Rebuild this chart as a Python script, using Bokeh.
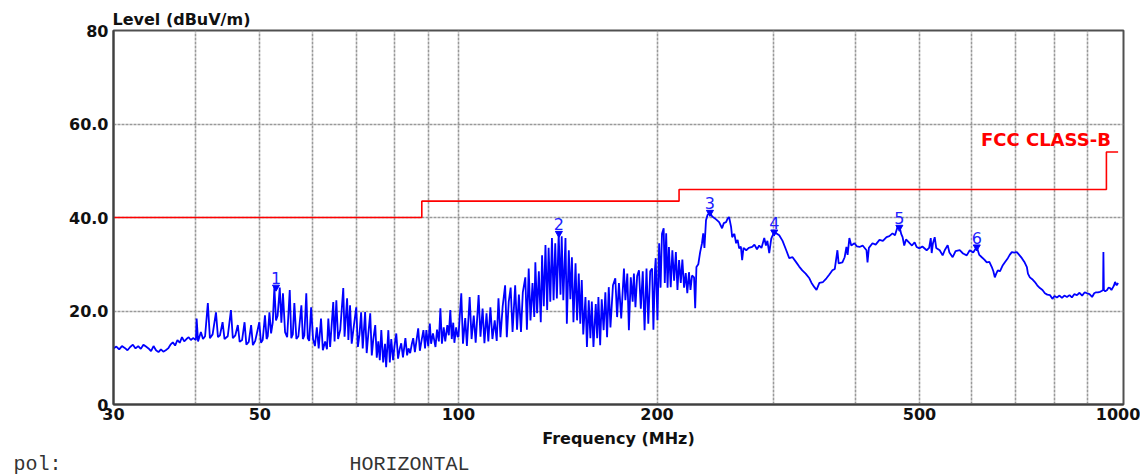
from bokeh.plotting import figure
from bokeh.models import Range1d, FixedTicker, PrintfTickFormatter, Label, ColumnDataSource, Title
from bokeh.embed import file_html
from bokeh.resources import INLINE
from bokeh.core.properties import value

trace_30_40 = [(30.0, 12.0), (30.3, 12.4), (30.6, 11.8), (30.9, 12.5), (31.2, 12.1), (31.5, 11.6),
               (31.8, 12.3), (32.1, 12.8), (32.4, 12.0), (32.7, 12.5), (33.0, 11.9), (33.3, 12.8),
               (33.6, 12.4), (33.9, 12.0), (34.2, 11.4), (34.5, 12.5), (34.8, 11.6), (35.1, 11.2),
               (35.4, 11.8), (35.7, 11.3), (36.0, 11.6), (36.3, 12.0), (36.6, 12.8), (36.9, 13.3),
               (37.2, 12.6), (37.5, 13.8), (37.8, 13.2), (38.1, 14.4), (38.4, 13.5), (38.7, 14.0),
               (39.0, 14.4), (39.3, 13.8), (39.6, 14.2), (39.9, 13.9)]

trace_40_60 = [(40.0, 13.8), (40.1, 18.4), (40.3, 13.5), (40.7, 15.5), (41.0, 14.0), (41.3, 14.6),
               (41.7, 21.7), (42.0, 14.2), (42.4, 15.0), (42.9, 19.7), (43.2, 14.4), (43.5, 14.8),
               (43.9, 17.6), (44.2, 14.0), (44.7, 14.6), (45.2, 20.2), (45.5, 14.2), (45.9, 14.8),
               (46.3, 17.0), (46.6, 13.4), (47.0, 13.8), (47.4, 17.6), (47.7, 12.8), (48.1, 13.4),
               (48.5, 17.0), (48.8, 12.7), (49.2, 13.6), (49.9, 17.6), (50.2, 13.2), (50.5, 13.8),
               (50.9, 19.1), (51.2, 14.0), (51.4, 14.6), (51.7, 19.7), (52.0, 15.2), (52.3, 17.5),
               (52.6, 25.1), (52.9, 18.0), (53.2, 19.0), (53.6, 25.0), (53.9, 17.5), (54.2, 23.8),
               (54.6, 15.5), (55.0, 14.4), (55.5, 24.5), (55.8, 14.2), (56.1, 15.0), (56.4, 21.7),
               (56.8, 14.0), (57.2, 14.6), (57.8, 21.2), (58.1, 14.0), (58.4, 14.8), (58.8, 23.8),
               (59.1, 14.2), (59.4, 13.6), (59.8, 20.8)]

trace_60_100 = [(60.2, 14.0), (60.6, 12.5), (61.0, 16.5), (61.4, 12.0), (61.9, 18.4), (62.3, 11.6),
                (62.8, 13.5), (63.2, 11.8), (63.5, 18.4), (63.9, 12.3), (64.6, 21.9), (64.9, 13.5),
                (65.3, 22.3), (65.7, 14.0), (66.2, 16.0), (66.9, 24.9), (67.2, 14.5), (67.8, 22.7),
                (68.1, 13.8), (68.5, 21.2), (68.9, 13.0), (69.3, 16.0), (70.0, 20.8), (70.4, 12.3),
                (70.8, 15.0), (71.2, 19.7), (71.6, 12.0), (72.2, 19.8), (72.6, 11.0), (73.0, 15.0),
                (73.5, 19.5), (73.9, 10.5), (74.3, 14.0), (74.8, 17.0), (75.2, 10.0), (75.6, 13.5),
                (76.0, 9.5), (76.4, 15.9), (76.9, 9.0), (77.4, 13.0), (77.7, 8.0), (78.3, 15.9),
                (78.7, 9.0), (79.1, 14.0), (79.6, 9.5), (80.0, 12.5), (80.5, 15.2), (81.0, 9.8),
                (81.5, 12.0), (81.9, 13.1), (82.4, 10.1), (83.1, 14.2), (83.6, 10.5), (84.0, 12.0),
                (84.5, 11.0), (85.0, 13.0), (85.4, 14.2), (85.9, 11.2), (86.9, 16.3), (87.4, 11.5),
                (88.0, 14.0), (88.5, 15.9), (89.0, 12.0), (89.4, 15.9), (90.0, 12.5), (90.5, 17.3),
                (90.9, 13.0), (91.5, 15.2), (92.3, 12.3), (92.8, 16.0), (93.4, 13.5), (93.9, 20.6),
                (94.4, 13.0), (95.0, 16.5), (95.5, 13.5), (96.2, 17.0), (96.7, 14.8), (97.2, 20.2),
                (97.7, 14.0), (98.2, 17.5), (98.6, 13.2), (99.2, 16.5), (99.7, 14.5)]

trace_100_240 = [(100.0, 14.5), (101.0, 23.8), (101.6, 13.0), (102.4, 18.5), (103.0, 12.5), (104.0, 23.0),
                 (104.7, 14.0), (105.5, 19.0), (106.2, 13.2), (107.3, 23.4), (108.0, 14.5), (108.8, 20.5),
                 (109.5, 13.1), (110.3, 19.5), (111.0, 13.5), (111.8, 20.8), (112.6, 14.0), (113.5, 18.0),
                 (114.3, 13.6), (115.0, 22.7), (115.8, 14.4), (116.7, 21.0), (117.7, 25.5), (118.4, 14.4),
                 (119.2, 22.0), (120.0, 25.0), (120.8, 15.5), (121.9, 25.5), (122.7, 16.0), (123.5, 23.5),
                 (124.4, 15.5), (125.2, 24.0), (126.3, 27.2), (127.0, 16.0), (127.8, 29.1), (128.6, 18.0),
                 (129.5, 26.0), (130.3, 18.7), (130.8, 30.4), (131.6, 19.5), (132.4, 28.5), (133.3, 17.6),
                 (133.9, 31.9), (134.7, 21.0), (135.5, 34.1), (136.3, 20.2), (137.0, 33.5), (137.8, 22.0),
                 (138.6, 35.6), (139.4, 22.3), (140.2, 34.5), (141.0, 22.7), (141.9, 36.6), (142.8, 23.5),
                 (143.4, 36.0), (144.2, 22.3), (145.3, 35.6), (146.0, 17.3), (147.0, 33.0), (147.8, 22.5),
                 (148.6, 31.5), (149.4, 17.6), (150.5, 30.2), (151.3, 18.0), (152.2, 28.0), (153.0, 17.3),
                 (153.8, 26.6), (154.6, 15.0), (155.8, 23.0), (156.6, 12.3), (157.6, 22.3), (158.5, 14.2),
                 (159.3, 22.0), (160.2, 12.3), (161.5, 21.5), (162.3, 14.2), (163.0, 23.0), (164.0, 12.7),
                 (164.9, 22.5), (166.0, 15.9), (167.0, 24.0), (168.0, 14.4), (169.0, 25.1), (170.0, 16.5),
                 (171.5, 25.5), (172.9, 27.0), (174.0, 18.7), (175.1, 26.0), (176.5, 18.4), (178.2, 29.1),
                 (179.1, 22.3), (180.3, 28.0), (181.3, 15.9), (182.5, 27.2), (183.7, 22.0), (184.5, 28.0),
                 (185.5, 20.8), (186.6, 27.5), (187.8, 28.7), (189.0, 20.5), (190.3, 28.5), (191.5, 15.9),
                 (192.8, 29.1), (194.0, 17.3), (195.3, 28.5), (196.6, 29.1), (197.5, 16.0), (198.6, 29.0),
                 (199.1, 31.3), (200.3, 18.0), (201.5, 34.5), (202.5, 25.0), (203.5, 36.5), (204.7, 37.7),
                 (205.5, 26.0), (206.5, 36.6), (207.5, 25.0), (208.5, 33.7), (209.8, 25.1), (211.0, 33.0),
                 (212.3, 26.5), (213.6, 32.6), (214.8, 24.5), (216.0, 30.9), (217.3, 26.0), (218.5, 31.0),
                 (219.8, 25.0), (221.1, 28.1), (222.3, 23.8), (223.6, 28.3), (224.8, 24.5), (226.0, 27.6),
                 (227.6, 27.2), (228.5, 20.6), (229.5, 29.4), (231.0, 30.0), (232.5, 32.6), (234.0, 34.5),
                 (235.0, 36.6), (236.0, 33.5), (237.3, 39.4), (238.5, 40.5), (239.8, 40.9)]

trace_240_1000 = [(240.6, 41.1), (242.5, 40.2), (245.8, 39.6), (248.4, 39.0), (251.0, 37.7), (252.5, 38.8),
                  (254.5, 39.0), (256.0, 39.8), (257.2, 40.1), (259.0, 38.0), (260.0, 35.8), (262.0, 36.5),
                  (263.6, 34.5), (265.0, 35.2), (266.4, 33.4), (268.0, 33.8), (269.2, 30.9), (270.5, 33.5),
                  (273.1, 33.0), (275.5, 33.5), (278.8, 33.7), (281.0, 34.2), (283.5, 33.2), (285.7, 34.0),
                  (288.0, 33.5), (290.8, 35.6), (292.5, 34.0), (294.0, 35.0), (295.9, 32.4), (298.0, 35.5),
                  (301.1, 36.9), (303.5, 36.6), (306.4, 36.2), (310.0, 35.0), (314.0, 33.0), (317.3, 31.3),
                  (321.0, 31.5), (325.2, 30.4), (328.5, 29.5), (332.1, 28.7), (336.0, 28.0), (340.4, 27.0),
                  (343.0, 26.0), (346.4, 25.1), (349.0, 24.5), (352.5, 26.0), (357.0, 26.2), (361.3, 27.0),
                  (365.0, 27.8), (368.9, 28.7), (372.0, 29.0), (375.4, 33.0), (377.0, 30.2), (382.0, 30.4),
                  (385.0, 31.5), (387.4, 33.7), (389.0, 32.0), (391.4, 35.6), (394.0, 34.0), (398.4, 34.5),
                  (402.0, 33.8), (405.4, 33.7), (410.0, 34.0), (415.5, 33.0), (417.0, 30.4), (419.0, 33.5),
                  (424.3, 34.5), (429.0, 34.2), (434.8, 35.2), (440.0, 35.0), (445.6, 35.8), (450.0, 36.0),
                  (455.0, 36.6), (459.0, 36.2), (463.1, 38.0), (466.5, 37.9), (469.0, 36.5), (471.3, 35.8),
                  (474.0, 34.0), (477.0, 35.3), (483.0, 34.5), (487.0, 34.0), (491.5, 34.7), (494.9, 33.7),
                  (500.0, 33.4), (505.0, 33.8), (512.6, 33.0), (517.0, 33.5), (520.0, 35.6), (521.7, 32.4),
                  (524.0, 34.5), (527.2, 35.8), (530.0, 33.5), (536.5, 33.0), (542.0, 31.9), (546.0, 33.0),
                  (551.6, 34.1), (555.0, 32.5), (561.3, 31.5), (567.0, 32.8), (575.3, 33.0), (582.0, 32.3),
                  (589.6, 31.9), (595.8, 33.0), (603.0, 32.5), (610.6, 33.7), (616.0, 32.0), (621.4, 31.5),
                  (627.0, 31.0), (632.3, 30.4), (638.0, 30.5), (643.5, 29.4), (647.0, 28.5), (650.3, 27.2),
                  (653.5, 28.0), (657.1, 28.7), (662.0, 28.5), (668.7, 29.8), (674.0, 30.5), (680.5, 31.3),
                  (685.0, 32.0), (690.1, 32.6), (696.0, 32.5), (702.3, 32.6), (708.0, 32.0), (714.7, 31.3),
                  (721.0, 30.5), (727.3, 29.4), (730.0, 28.0), (734.9, 27.2), (741.0, 26.8), (747.9, 26.2),
                  (754.0, 25.5), (761.1, 24.9), (768.0, 24.5), (774.5, 23.8), (781.0, 23.5), (788.2, 23.4),
                  (795.0, 22.6), (801.0, 23.2), (807.7, 22.9), (815.0, 23.3), (822.0, 22.8), (829.0, 23.3),
                  (836.5, 23.0), (844.0, 23.4), (851.0, 22.9), (858.0, 23.6), (866.3, 23.4), (874.0, 23.9),
                  (882.0, 23.3), (890.0, 24.0), (897.3, 23.8), (905.0, 23.6), (913.2, 23.0), (920.0, 23.8),
                  (926.0, 24.0), (932.0, 24.0), (939.0, 24.1), (944.0, 24.3), (948.9, 24.5), (950.0, 32.6),
                  (951.5, 24.5), (956.0, 24.2), (962.3, 24.5), (967.0, 25.0), (972.3, 24.9), (977.0, 24.5),
                  (982.6, 25.1), (986.0, 25.5), (989.5, 26.2), (995.0, 25.5), (1000.0, 26.0)]

# ---- FCC class B limit (step edges) ----
limit_freq = [30, 88, 216, 960, 1000]
limit_level = [40.0, 43.5, 46.0, 54.0, 54.0]

# ---- numbered peaks ----
peak_freq = [52.9, 142.0, 240.6, 301.1, 466.0, 610.6]
peak_level = [25.1, 36.6, 41.1, 36.9, 37.9, 33.7]
peak_label = ["1", "2", "3", "4", "5", "6"]

# ---- axes ----
x_tick_values = [30, 50, 100, 200, 500, 1000]
x_grid_values = [40, 50, 60, 70, 80, 90, 100, 200, 300, 400, 500, 600, 700, 800, 900]
y_tick_values = [0, 20, 40, 60, 80]
y_tick_labels = ["0", "20.0", "40.0", "60.0", "80"]
y_grid_values = [20, 40, 60]

trace = trace_30_40 + trace_40_60 + trace_60_100 + trace_100_240 + trace_240_1000
trace_src = ColumnDataSource(dict(f=[t[0] for t in trace], lev=[t[1] for t in trace]))

FONT = "DejaVu Sans"
NB = "\u00a0"

p = figure(x_axis_type="log", x_range=Range1d(30, 1019), y_range=Range1d(0, 80),
           frame_width=1010, frame_height=374,
           min_border_left=113, min_border_right=17, min_border_top=30, min_border_bottom=70,
           output_backend="svg", toolbar_location=None,
           background_fill_color="white", border_fill_color="white")

p.outline_line_color = "#505050"
p.outline_line_width = 2

# y-axis caption as title above the frame (left aligned)
p.title.text = "Level (dBuV/m)"
p.title.align = "left"
p.title.offset = -1
p.title.standoff = 3
p.title.text_font = FONT
p.title.text_font_style = "bold"
p.title.text_font_size = "16px"
p.title.text_color = "#111111"

# grid
p.xgrid.ticker = FixedTicker(ticks=x_grid_values)
p.ygrid.ticker = FixedTicker(ticks=y_grid_values)
for g in (p.xgrid, p.ygrid):
    g.grid_line_color = "#999999"
    g.grid_line_width = 1.6
    g.grid_line_dash = "3 1"

# axes
p.xaxis.ticker = FixedTicker(ticks=x_tick_values)
p.xaxis.formatter = PrintfTickFormatter(format="%d")
p.yaxis.ticker = FixedTicker(ticks=y_tick_values)
p.yaxis.major_label_overrides = {v: s for v, s in zip(y_tick_values, y_tick_labels)}
for ax in (p.xaxis, p.yaxis):
    ax.axis_line_color = "#404040"
    ax.axis_line_width = 2
    ax.major_tick_line_color = None
    ax.minor_tick_line_color = None
    ax.major_tick_out = 0
    ax.major_tick_in = 0
    ax.major_label_text_font = FONT
    ax.major_label_text_font_style = "bold"
    ax.major_label_text_font_size = "16px"
    ax.major_label_text_color = "#111111"
p.yaxis.major_label_standoff = 5
p.xaxis.major_label_standoff = 3
p.xaxis.axis_label = "Frequency (MHz)"
p.xaxis.axis_label_text_font = FONT
p.xaxis.axis_label_text_font_style = "bold"
p.xaxis.axis_label_text_font_size = "16px"
p.xaxis.axis_label_text_color = "#111111"
p.xaxis.axis_label_standoff = 6

# polarisation line below the axis
pol_text = "pol:" + NB * 24 + "HORIZONTAL"
p.add_layout(Title(text=pol_text, align="left", offset=-100, standoff=0,
                   text_font="Liberation Mono", text_font_style="normal",
                   text_font_size="20px", text_color="#333333"), "below")

# limit line
p.step(limit_freq, limit_level, mode="after", line_color="#ff0000", line_width=1.6)

# trace
p.line("f", "lev", source=trace_src, line_color="#0000ff", line_width=1.8)

# peaks
peak_src = ColumnDataSource(dict(f=peak_freq, lev=peak_level, lab=peak_label))
p.scatter("f", "lev", source=peak_src, marker="inverted_triangle", size=7,
          fill_color="#0000ff", line_color="#0000ff")
p.text("f", "lev", text="lab", source=peak_src, text_align="center", text_baseline="bottom",
       y_offset=-3, text_font=value(FONT), text_font_size="16px", text_color="#2020ff")

# limit name
p.add_layout(Label(x=975, y=56.7, text="FCC CLASS-B", text_align="right", text_baseline="middle",
                   text_font=FONT, text_font_style="bold", text_font_size="18px",
                   text_color="#ff0000"))

open("out.html", "w").write(file_html(p, INLINE))
